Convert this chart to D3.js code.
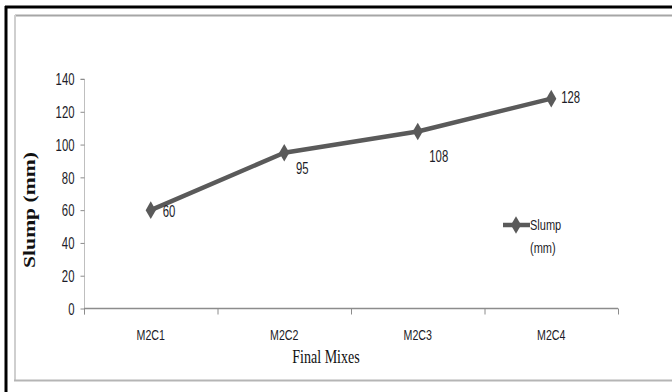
<!DOCTYPE html>
<html>
<head>
<meta charset="utf-8">
<script src="https://cdn.jsdelivr.net/npm/d3@7"></script>
<style>
  html, body { margin: 0; padding: 0; background: #fff; }
  svg { display: block; }
</style>
</head>
<body>
<svg id="chart" width="672" height="392"></svg>
<script>
// Slump per final mix
const categories = ["M2C1", "M2C2", "M2C3", "M2C4"];
const slumpValues = [60, 95, 108, 128];
const yTicks = [0, 20, 40, 60, 80, 100, 120, 140];
const seriesName = ["Slump", "(mm)"];
const xTitle = "Final Mixes";
const yTitle = "Slump (mm)";

const svg = d3.select("#chart");
const sans = "'Liberation Sans', Arial, sans-serif";
const serif = "'Liberation Serif', 'Times New Roman', serif";
const textColor = "#1c1c28";
const lineColor = "#5a5a5a";
const squeeze = 0.71;   // horizontal compression for the condensed labels

// Places a text horizontally squeezed around its anchor point
function condensedText(parent, px, py, str, opts) {
  const g = parent.append("g")
    .attr("transform", `translate(${px},${py}) ${opts.rotate ? `rotate(${opts.rotate})` : ""} scale(${opts.sx},${opts.sy || 1})`);
  return g.append("text")
    .attr("text-anchor", opts.anchor || "start")
    .attr("dominant-baseline", opts.baseline || "auto")
    .attr("fill", opts.fill || textColor)
    .style("font-family", opts.family || sans)
    .style("font-size", opts.size + "px")
    .style("font-weight", opts.weight || "normal")
    .text(str);
}

// Frame lines
svg.append("line").attr("x1", 5).attr("y1", 7).attr("x2", 672).attr("y2", 7)
  .attr("stroke", "#000").attr("stroke-width", 3);
svg.append("line").attr("x1", 6).attr("y1", 6).attr("x2", 6).attr("y2", 392)
  .attr("stroke", "#000").attr("stroke-width", 3);
svg.append("line").attr("x1", 15).attr("y1", 15.5).attr("x2", 672).attr("y2", 15.5)
  .attr("stroke", "#a6a6a6").attr("stroke-width", 2);
svg.append("line").attr("x1", 15).attr("y1", 15).attr("x2", 15).attr("y2", 381)
  .attr("stroke", "#cfcfcf").attr("stroke-width", 2);
svg.append("line").attr("x1", 14).attr("y1", 380.5).attr("x2", 672).attr("y2", 380.5)
  .attr("stroke", "#b5b5b5").attr("stroke-width", 2);

// Scales
const x = d3.scaleBand().domain(categories).range([84, 618]).paddingInner(0).paddingOuter(0);
const y = d3.scaleLinear().domain([0, 140]).range([308.5, 79]);

// Y axis (ticks from the axis generator, labels squeezed)
const yAxis = svg.append("g").attr("transform", "translate(84.5,0)")
  .call(d3.axisLeft(y).tickValues(yTicks).tickSize(4).tickFormat(""));
yAxis.select(".domain").attr("stroke", "#bfbfbf").attr("d", `M-4,${y(140)}H0V${y(0) + 6}`);
yAxis.selectAll(".tick line").attr("stroke", "#8c8c8c");
yAxis.selectAll(".tick").each(function (d) {
  condensedText(d3.select(this), -10, 0, d3.format("d")(d),
    { sx: squeeze, size: 16, anchor: "end", baseline: "central" });
});

// X axis with ticks at category boundaries
const xg = svg.append("g");
xg.append("line").attr("x1", 84).attr("x2", 618).attr("y1", y(0)).attr("y2", y(0))
  .attr("stroke", "#8c8c8c").attr("stroke-width", 1.3);
const bounds = categories.map(c => x(c)).concat([x.range()[1]]);
xg.selectAll("line.tk").data(bounds).join("line").attr("class", "tk")
  .attr("x1", d => d + 0.5).attr("x2", d => d + 0.5)
  .attr("y1", y(0)).attr("y2", y(0) + 6)
  .attr("stroke", "#8c8c8c");
categories.forEach(c => {
  condensedText(xg, x(c) + x.bandwidth() / 2, 335, c,
    { sx: squeeze, size: 15, anchor: "middle", baseline: "central" });
});

// Axis titles
condensedText(svg, 30, 210, yTitle,
  { rotate: -90, sx: 1.35, sy: 1, size: 16, anchor: "middle", baseline: "central",
    family: serif, weight: "bold", fill: "#111" });
condensedText(svg, 326, 357, xTitle,
  { sx: 0.78, size: 18, anchor: "middle", baseline: "central", family: serif, fill: "#111" });

// Series line
const pts = categories.map((c, i) => ({ c, v: slumpValues[i] }));
const cx = d => x(d.c) + x.bandwidth() / 2;
svg.append("path").datum(pts)
  .attr("fill", "none").attr("stroke", lineColor).attr("stroke-width", 4.5)
  .attr("stroke-linejoin", "round")
  .attr("d", d3.line().x(cx).y(d => y(d.v)));

const diamond = d3.symbol().type(d3.symbolDiamond).size(90);
svg.selectAll("path.mk").data(pts).join("path").attr("class", "mk")
  .attr("transform", d => `translate(${cx(d)},${y(d.v)})`)
  .attr("d", diamond).attr("fill", lineColor);

// Value labels
const labelOffsets = [[12, 1], [18, 15], [21, 25], [10, -1]];
pts.forEach((d, i) => {
  condensedText(svg, cx(d) + labelOffsets[i][0], y(d.v) + labelOffsets[i][1], d.v,
    { sx: squeeze, size: 16, anchor: (i === 1 || i === 2) ? "middle" : "start", baseline: "central" });
});

// Legend
const lg = svg.append("g");
lg.append("line").attr("x1", 503).attr("x2", 530).attr("y1", 225).attr("y2", 225)
  .attr("stroke", lineColor).attr("stroke-width", 4.5);
lg.append("path").attr("transform", "translate(516,225)").attr("d", diamond).attr("fill", lineColor);
seriesName.forEach((s, i) => {
  condensedText(lg, 530, 225 + i * 23, s, { sx: squeeze, size: 15.5, baseline: "central" });
});
</script>
</body>
</html>
